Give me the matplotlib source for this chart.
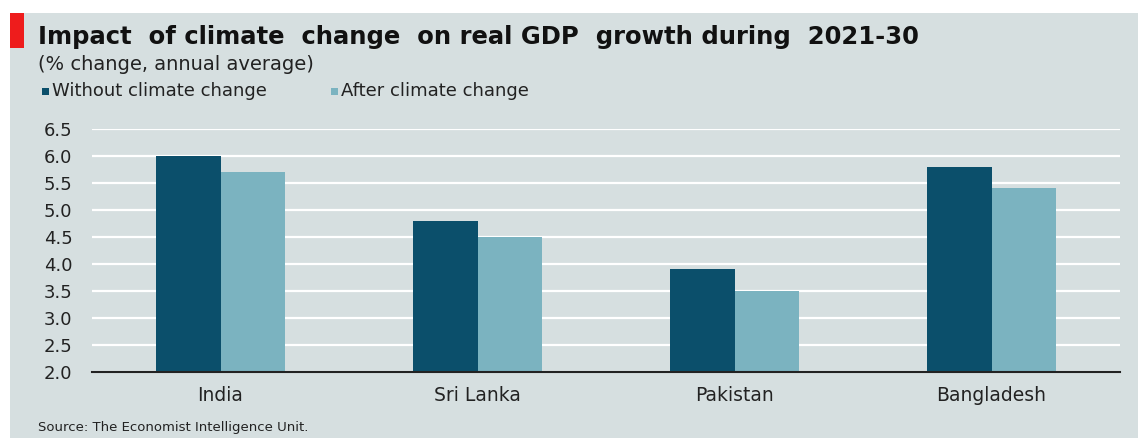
import matplotlib
matplotlib.use("Agg")
import matplotlib.pyplot as plt
from matplotlib.patches import Rectangle
import numpy as np

# data
countries = ["India", "Sri Lanka", "Pakistan", "Bangladesh"]
without_cc = [6.0, 4.8, 3.9, 5.8]
after_cc = [5.7, 4.5, 3.5, 5.4]
y_ticks = [2.0, 2.5, 3.0, 3.5, 4.0, 4.5, 5.0, 5.5, 6.0, 6.5]

bg = "#d6dfe0"
dark = "#0b4f6b"
light = "#7bb3c0"

plt.rcParams['font.family'] = ['DejaVu Sans']

W, H = 1138, 438
fig = plt.figure(figsize=(W / 100, H / 100), dpi=100)
fig.patch.set_facecolor("white")

# grey panel and red tag
fig.patches.append(Rectangle((10 / W, 0), 1 - 10 / W, 1 - 13 / H,
                             transform=fig.transFigure, facecolor=bg,
                             edgecolor="none", zorder=0))
fig.patches.append(Rectangle((10 / W, 1 - 48 / H), 14 / W, 35 / H,
                             transform=fig.transFigure, facecolor="#ee1c1c",
                             edgecolor="none", zorder=1))

ax = fig.add_axes([92 / W, 1 - 372 / H, (1120 - 92) / W, (372 - 129) / H])
ax.set_zorder(5)
ax.set_facecolor(bg)

x = np.arange(len(countries))
w = 0.25
ax.bar(x - w / 2, without_cc, w, color=dark, zorder=3)
ax.bar(x + w / 2, after_cc, w, color=light, zorder=3)

ax.set_ylim(2.0, 6.5)
ax.set_xlim(-0.5, len(countries) - 0.5)
ax.set_yticks(y_ticks)
ax.set_yticklabels(["%.1f" % t for t in y_ticks], fontsize=13, color="#222222")
ax.set_xticks(x)
ax.set_xticklabels(countries, fontsize=13.5, color="#222222")
ax.tick_params(axis="y", length=0, pad=14)
ax.tick_params(axis="x", length=0, pad=10)
ax.grid(axis="y", color="white", linewidth=1.6, zorder=1)
for s in ["top", "right", "left"]:
    ax.spines[s].set_visible(False)
ax.spines["bottom"].set_color("#222222")
ax.spines["bottom"].set_linewidth(1.5)
ax.spines["bottom"].set_zorder(4)

fig.text(38 / W, 1 - 37 / H, "Impact  of climate  change  on real GDP  growth during  2021-30",
         fontsize=17.5, fontweight="bold", va="center", ha="left", color="#111111")
fig.text(38 / W, 1 - 64 / H, "(% change, annual average)",
         fontsize=14, va="center", ha="left", color="#222222")

# legend
fig.patches.append(Rectangle((42 / W, 1 - 95 / H), 7 / W, 7 / H,
                             transform=fig.transFigure, facecolor=dark, edgecolor="none"))
fig.text(52 / W, 1 - 91 / H, "Without climate change", fontsize=13,
         va="center", ha="left", color="#222222")
fig.patches.append(Rectangle((331 / W, 1 - 95 / H), 7 / W, 7 / H,
                             transform=fig.transFigure, facecolor=light, edgecolor="none"))
fig.text(341 / W, 1 - 91 / H, "After climate change", fontsize=13,
         va="center", ha="left", color="#222222")

fig.text(38 / W, 1 - 427 / H, "Source: The Economist Intelligence Unit.",
         fontsize=9.5, va="center", ha="left", color="#222222")

fig.savefig("out.png", dpi=100, facecolor=fig.get_facecolor())
